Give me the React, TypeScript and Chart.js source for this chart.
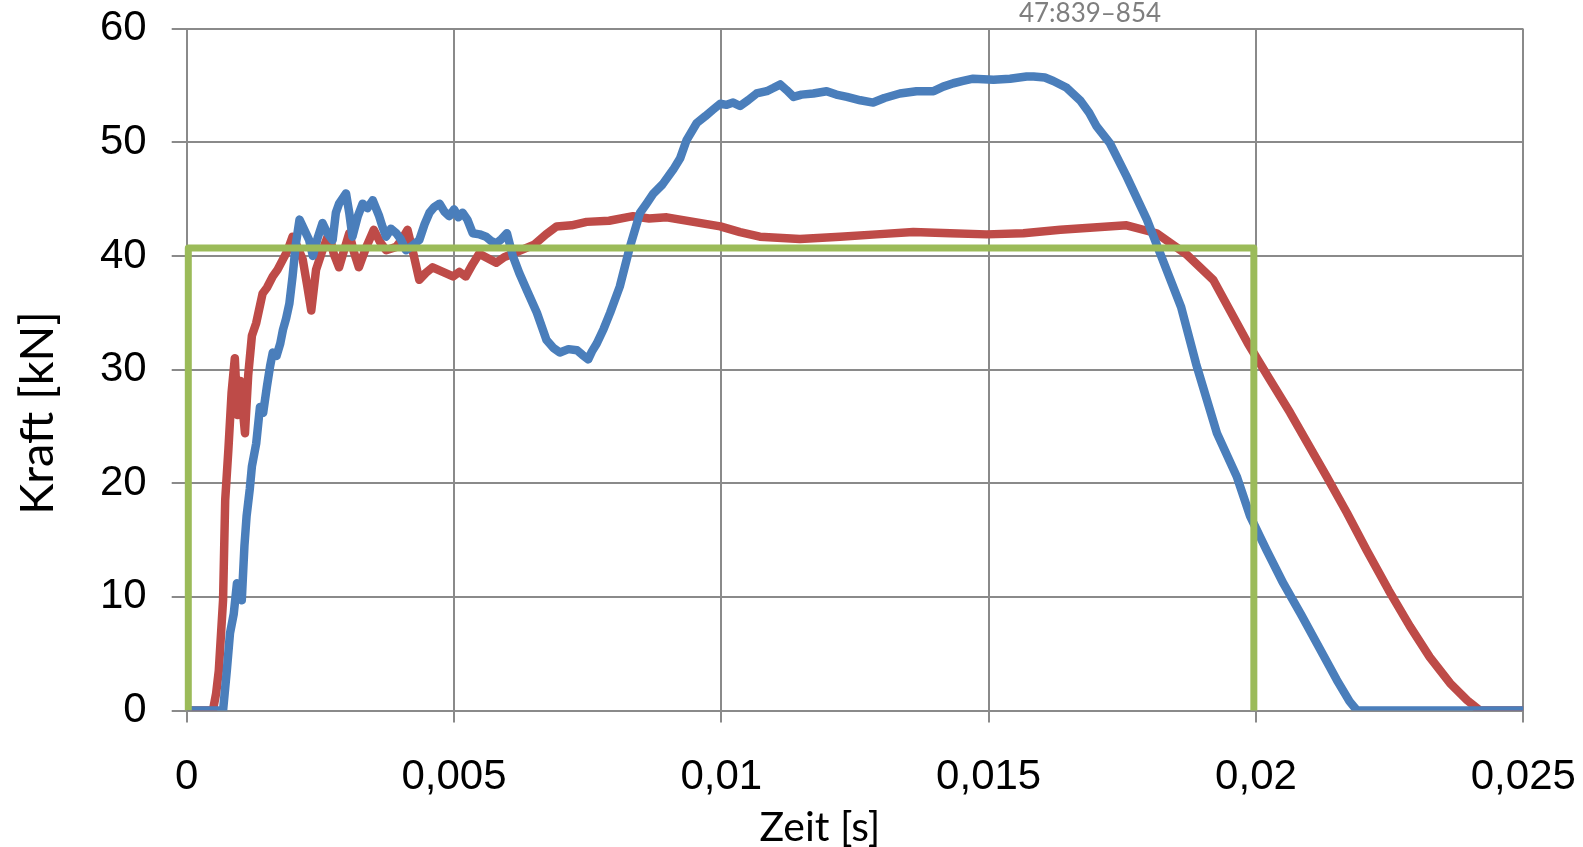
import React, { useEffect, useRef } from 'react';
import { Chart, registerables } from 'chart.js';

Chart.register(...registerables);

// Zeit [s] / Kraft [kN]
const greenTime = [0.00003, 0.00003, 0.01996, 0.01996];
const greenForce = [0, 40.7, 40.7, 0];

const blueTime = [
  0, 0.00068, 0.00075, 0.00081, 0.00088, 0.00094, 0.00103, 0.00108, 0.00112, 0.00118,
  0.00122, 0.0013, 0.00137, 0.00143, 0.0015, 0.00156, 0.00161, 0.00168, 0.00175, 0.0018,
  0.00186, 0.00192, 0.00198, 0.00204, 0.00211, 0.0022, 0.00229, 0.00236, 0.00245, 0.00254,
  0.00263, 0.00273, 0.00279, 0.00285, 0.00298, 0.00304, 0.0031, 0.0032, 0.00329, 0.00338,
  0.00348, 0.0036, 0.00366, 0.00373, 0.00382, 0.00392, 0.004, 0.0041, 0.00422, 0.00435,
  0.00445, 0.00454, 0.00463, 0.00473, 0.00482, 0.00491, 0.005, 0.00508, 0.00516, 0.00525,
  0.00535, 0.00548, 0.0056, 0.0057, 0.00579, 0.00589, 0.00599, 0.0061, 0.00622, 0.00636,
  0.00655, 0.00673, 0.00686, 0.00698, 0.00714, 0.0073, 0.0074, 0.00751, 0.00758, 0.00767,
  0.0078, 0.00792, 0.0081, 0.00829, 0.00848, 0.0086, 0.00873, 0.0089, 0.0091, 0.00923,
  0.00935, 0.00954, 0.0097, 0.00985, 0.00998, 0.0101, 0.01022, 0.01035, 0.0105, 0.01066,
  0.01085, 0.01098, 0.0111, 0.01122, 0.01135, 0.0115, 0.01172, 0.01197, 0.01215, 0.01235,
  0.0126, 0.01284, 0.01305, 0.01334, 0.01365, 0.01397, 0.01415, 0.01434, 0.01452, 0.01471,
  0.01509, 0.0154, 0.01571, 0.01584, 0.01605, 0.01621, 0.01646, 0.01671, 0.01688, 0.01702,
  0.01727, 0.01758, 0.01796, 0.01821, 0.0186, 0.01888, 0.01927, 0.01964, 0.01989, 0.0202,
  0.02051, 0.02085, 0.02114, 0.02151, 0.02175, 0.02189, 0.025,
];
const blueForce = [
  0, 0, 3.5, 6.8, 8.5, 11.2, 9.7, 14.5, 17.1, 19.5,
  21.5, 23.5, 26.7, 26.2, 28.5, 30.3, 31.5, 31.2, 32.3, 33.5,
  34.5, 35.8, 38.2, 41, 43.2, 42.3, 41.4, 40, 41.6, 42.9,
  42, 41.4, 43.8, 44.6, 45.5, 43.8, 41.7, 43.5, 44.6, 44.2,
  44.9, 43.5, 42.6, 41.7, 42.4, 42, 41.5, 40.5, 40.9, 41.4,
  42.8, 43.8, 44.3, 44.6, 43.9, 43.5, 44.1, 43.4, 43.8, 43.2,
  42, 41.9, 41.7, 41.3, 41.1, 41.5, 42, 40, 38.5, 37,
  35, 32.6, 31.9, 31.5, 31.8, 31.7, 31.3, 30.9, 31.6, 32.3,
  33.6, 35, 37.3, 40.8, 43.8, 44.6, 45.5, 46.3, 47.6, 48.6,
  50.2, 51.7, 52.3, 52.9, 53.4, 53.3, 53.5, 53.2, 53.7, 54.3,
  54.5, 54.8, 55.1, 54.6, 54, 54.2, 54.3, 54.5, 54.2, 54,
  53.7, 53.5, 53.9, 54.3, 54.5, 54.5, 54.9, 55.2, 55.4, 55.6,
  55.5, 55.6, 55.8, 55.8, 55.7, 55.4, 54.8, 53.7, 52.6, 51.4,
  49.9, 47, 43.2, 40.2, 35.5, 30.5, 24.4, 20.6, 17.1, 14.1,
  11.2, 8.4, 5.9, 2.7, 0.8, 0, 0,
];

const redTime = [
  0, 0.00049, 0.00055, 0.0006, 0.00068, 0.00072, 0.00078, 0.00084, 0.0009, 0.00095,
  0.001, 0.00109, 0.00115, 0.00122, 0.0013, 0.00142, 0.0015, 0.00161, 0.0017, 0.0018,
  0.00189, 0.00198, 0.00207, 0.00217, 0.00225, 0.00233, 0.00242, 0.00254, 0.00266, 0.00275,
  0.00285, 0.00295, 0.00304, 0.00313, 0.00322, 0.00336, 0.0035, 0.00362, 0.00373, 0.00392,
  0.00403, 0.00413, 0.00424, 0.00435, 0.00447, 0.0046, 0.00479, 0.00498, 0.0051, 0.00522,
  0.00535, 0.00547, 0.00563, 0.00579, 0.00594, 0.0061, 0.0063, 0.0065, 0.00672, 0.00692,
  0.0072, 0.00748, 0.0079, 0.00835, 0.00865, 0.00898, 0.00948, 0.00998, 0.01035, 0.01072,
  0.01147, 0.01222, 0.0129, 0.01359, 0.01428, 0.01496, 0.01565, 0.01634, 0.01696, 0.01758,
  0.01814, 0.01871, 0.0192, 0.01985, 0.02025, 0.02064, 0.02098, 0.02132, 0.0217, 0.02207,
  0.02248, 0.02288, 0.02325, 0.02363, 0.02395, 0.02419, 0.025,
];
const redForce = [
  0, 0, 1.5, 3.5, 9.7, 18.5, 23, 28, 31, 26,
  29, 24.4, 29.5, 33, 34.1, 36.7, 37.2, 38.2, 38.8, 39.7,
  40.5, 41.7, 40.8, 39.7, 37.5, 35.2, 38.8, 40.5, 42, 40.2,
  39, 40.6, 42, 40.3, 39, 40.8, 42.3, 41.2, 40.5, 40.8,
  41.5, 42.3, 40.2, 37.9, 38.5, 39, 38.6, 38.2, 38.6, 38.2,
  39.3, 40.2, 39.8, 39.4, 39.9, 40.2, 40.6, 41, 41.9, 42.6,
  42.7, 43, 43.1, 43.5, 43.3, 43.4, 43, 42.6, 42.1, 41.7,
  41.5, 41.7, 41.9, 42.1, 42, 41.9, 42, 42.3, 42.5, 42.7,
  42, 40.1, 37.9, 32.3, 29.2, 26.2, 23.4, 20.6, 17.4, 14.1,
  10.6, 7.4, 4.7, 2.4, 0.9, 0, 0,
];

const xTickLabels = ['0', '0,005', '0,01', '0,015', '0,02', '0,025'];
const yTickLabels = ['0', '10', '20', '30', '40', '50', '60'];

const xTitle = 'Zeit [s]';
const yTitle = 'Kraft [kN]';
const sourceNote = '47:839–854';

const toPoints = (t: number[], f: number[]) => t.map((x, i) => ({ x, y: f[i] }));

export default function App() {
  const ref = useRef<HTMLCanvasElement>(null);

  useEffect(() => {
    const canvas = ref.current;
    if (!canvas) return;

    const titlePlugin = {
      id: 'customTitles',
      afterDraw(chart: any) {
        const ctx = chart.ctx as CanvasRenderingContext2D;
        ctx.save();
        ctx.fillStyle = '#000000';
        ctx.textAlign = 'center';
        ctx.textBaseline = 'middle';
        ctx.font = '41px Lato, "Open Sans", sans-serif';
        ctx.fillText(xTitle, 820, 828);
        ctx.font = '47px Lato, "Open Sans", sans-serif';
        ctx.translate(38, 413);
        ctx.rotate(-Math.PI / 2);
        ctx.fillText(yTitle, 0, 0);
        ctx.restore();

        ctx.save();
        ctx.font = '26px Lato, "Open Sans", sans-serif';
        ctx.fillStyle = '#7f7f7f';
        ctx.textAlign = 'center';
        ctx.textBaseline = 'alphabetic';
        ctx.fillText(sourceNote, 1090, 22);
        ctx.restore();
      },
    };

    const gridColor = '#8a8a8a';
    const tickFont = { family: '"Liberation Sans", Arial, sans-serif', size: 42 };
    const zeroPadding = (s: any) => {
      s.paddingLeft = 0;
      s.paddingRight = 0;
      s.paddingTop = 0;
      s.paddingBottom = 0;
    };

    const chart = new Chart(canvas, {
      type: 'line',
      data: {
        datasets: [
          {
            data: toPoints(greenTime, greenForce),
            borderColor: '#9bbb59',
            borderWidth: 7,
            clip: { left: 5, top: 5, right: 5, bottom: 0 } as any,
          },
          {
            data: toPoints(blueTime, blueForce),
            borderColor: '#4a7ebb',
            borderWidth: 8.5,
            clip: 0 as any,
          },
          {
            data: toPoints(redTime, redForce),
            borderColor: '#be4b48',
            borderWidth: 8.5,
            clip: 0 as any,
          },
        ],
      },
      options: {
        responsive: false,
        animation: false,
        devicePixelRatio: 1,
        layout: { padding: { left: 0, top: 28.7, right: 59.7, bottom: 0 } },
        plugins: {
          legend: { display: false },
          tooltip: { enabled: false },
        },
        elements: {
          point: { radius: 0 },
          line: { tension: 0, borderJoinStyle: 'round', borderCapStyle: 'butt' },
        },
        scales: {
          x: {
            type: 'linear',
            min: 0,
            max: 0.025,
            ticks: {
              stepSize: 0.005,
              autoSkip: false,
              maxRotation: 0,
              color: '#000000',
              font: tickFont,
              padding: 30,
              callback: (_v: any, i: number) => xTickLabels[i],
            },
            grid: { color: gridColor, lineWidth: 2, tickLength: 12 },
            border: { color: gridColor, width: 2 },
            afterFit: (s: any) => {
              s.height = 847 - 710.5;
              zeroPadding(s);
            },
          },
          y: {
            type: 'linear',
            min: 0,
            max: 60,
            ticks: {
              stepSize: 10,
              color: '#000000',
              font: tickFont,
              padding: 25,
              callback: (_v: any, i: number) => yTickLabels[i],
            },
            grid: { color: gridColor, lineWidth: 2, tickLength: 15 },
            border: { color: gridColor, width: 2 },
            afterFit: (s: any) => {
              s.width = 186.7;
              zeroPadding(s);
            },
          },
        },
      },
      plugins: [titlePlugin],
    });

    return () => chart.destroy();
  }, []);

  return (
    <div style={{ position: 'fixed', left: 0, top: 0, width: 1583, height: 847, background: '#ffffff' }}>
      <canvas ref={ref} width={1583} height={847} style={{ width: 1583, height: 847, display: 'block' }} />
    </div>
  );
}
